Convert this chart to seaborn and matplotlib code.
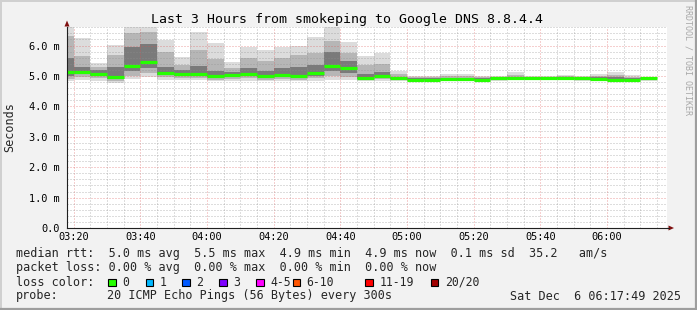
import matplotlib
matplotlib.use("Agg")
import matplotlib.pyplot as plt
import numpy as np
import pandas as pd
import seaborn as sns
from matplotlib.ticker import MultipleLocator, FixedLocator, FixedFormatter
from matplotlib.patches import Polygon, Rectangle
from matplotlib.lines import Line2D

# ---------------- data ----------------
bin_start = ["03:15", "03:20", "03:25", "03:30", "03:35", "03:40", "03:45", "03:50", "03:55",
             "04:00", "04:05", "04:10", "04:15", "04:20", "04:25", "04:30", "04:35", "04:40",
             "04:45", "04:50", "04:55", "05:00", "05:05", "05:10", "05:15", "05:20", "05:25",
             "05:30", "05:35", "05:40", "05:45", "05:50", "05:55", "06:00", "06:05", "06:10"]
# ping RTT levels per 5-min bin (ms)
rtt_max = [6.62, 6.25, 5.42, 6.03, 6.62, 6.62, 6.17, 5.63, 6.46, 6.10, 5.47, 5.95,
           5.87, 5.95, 5.98, 6.28, 6.62, 6.12, 5.64, 5.74, 5.15, 5.00, 5.00, 5.07,
           5.07, 4.99, 5.00, 5.12, 5.00, 5.00, 5.03, 5.00, 5.07, 5.12, 5.03, 4.98]
rtt_hi2 = [6.30, 5.65, 5.30, 5.70, 6.40, 6.45, 5.80, 5.35, 5.85, 5.55, 5.25, 5.60,
           5.50, 5.60, 5.70, 5.75, 6.15, 5.75, 5.35, 5.40, 5.05, 4.96, 4.96, 5.00,
           5.00, 4.96, 4.97, 5.03, 4.98, 4.98, 4.99, 4.97, 4.99, 5.02, 4.98, 4.96]
rtt_hi3 = [5.60, 5.28, 5.18, 5.30, 5.95, 6.05, 5.30, 5.18, 5.32, 5.16, 5.12, 5.25,
           5.15, 5.25, 5.28, 5.35, 5.80, 5.50, 5.08, 5.12, 4.98, 4.93, 4.93, 4.94,
           4.94, 4.94, 4.95, 4.98, 4.96, 4.96, 4.95, 4.94, 4.95, 4.95, 4.94, 4.94]
rtt_median = [5.14, 5.14, 5.08, 4.98, 5.34, 5.47, 5.11, 5.08, 5.08, 5.01, 5.04, 5.08,
              5.01, 5.04, 5.01, 5.10, 5.34, 5.26, 4.94, 5.00, 4.92, 4.88, 4.88, 4.89,
              4.89, 4.88, 4.92, 4.93, 4.93, 4.93, 4.94, 4.92, 4.90, 4.87, 4.87, 4.92]
rtt_lo3 = [5.00, 5.05, 5.00, 4.90, 5.15, 5.25, 5.02, 5.00, 5.00, 4.95, 4.97, 5.00,
           4.95, 4.97, 4.95, 5.00, 5.15, 5.10, 4.90, 4.95, 4.89, 4.86, 4.86, 4.86,
           4.86, 4.86, 4.89, 4.90, 4.90, 4.90, 4.90, 4.89, 4.88, 4.85, 4.85, 4.89]
rtt_lo2 = [4.90, 4.95, 4.92, 4.84, 5.00, 5.10, 4.95, 4.93, 4.93, 4.88, 4.90, 4.92,
           4.88, 4.90, 4.88, 4.92, 5.00, 4.98, 4.87, 4.90, 4.87, 4.85, 4.85, 4.84,
           4.84, 4.85, 4.87, 4.88, 4.88, 4.88, 4.88, 4.87, 4.86, 4.84, 4.84, 4.87]
rtt_min = [4.82, 4.86, 4.85, 4.76, 4.90, 4.95, 4.88, 4.86, 4.86, 4.82, 4.84, 4.85,
           4.82, 4.84, 4.82, 4.85, 4.88, 4.88, 4.84, 4.85, 4.85, 4.83, 4.83, 4.82,
           4.82, 4.84, 4.85, 4.86, 4.86, 4.86, 4.86, 4.85, 4.84, 4.82, 4.82, 4.85]

x_tick_labels = ["03:20", "03:40", "04:00", "04:20", "04:40", "05:00", "05:20", "05:40", "06:00"]
y_tick_labels = ["0.0", "1.0 m", "2.0 m", "3.0 m", "4.0 m", "5.0 m", "6.0 m"]
y_tick_values = [0, 1, 2, 3, 4, 5, 6]

title = "Last 3 Hours from smokeping to Google DNS 8.8.4.4"
legend_lines = [
    "median rtt:  5.0 ms avg  5.5 ms max  4.9 ms min  4.9 ms now  0.1 ms sd  35.2   am/s",
    "packet loss: 0.00 % avg  0.00 % max  0.00 % min  0.00 % now",
]
loss_labels = ["0", "1", "2", "3", "4-5", "6-10", "11-19", "20/20"]
loss_colors = ["#26ff00", "#00b8ff", "#0059ff", "#7e00ff", "#ff00ff", "#ff5500", "#ff0000", "#a10000"]
probe_text = "20 ICMP Echo Pings (56 Bytes) every 300s"
date_text = "Sat Dec  6 06:17:49 2025"

# ---------------- helpers ----------------
W, H = 697, 310
def fx(px): return px / W
def fy(py): return 1 - py / H

def to_min(s):
    h, m = s.split(":")
    return int(h) * 60 + int(m) - 180  # minutes since 03:00

starts = np.array([to_min(s) for s in bin_start], dtype=float)
ends = starts + 5
xt = [to_min(s) for s in x_tick_labels]

sns.set_theme(style="white")
plt.rcParams["font.family"] = ["DejaVu Sans Mono", "DejaVu Sans"]
MONO = "DejaVu Sans Mono"

fig = plt.figure(figsize=(W / 100, H / 100), dpi=100, facecolor="#f2f2f2")
ax = fig.add_axes([fx(67), fy(228), fx(667) - fx(67), fy(27) - fy(228)])
ax.set_facecolor("white")

# smoke layers
layers = [(rtt_min, rtt_max, "#dcdcdc"),
          (rtt_lo2, rtt_hi2, "#b6b6b6"),
          (rtt_lo3, rtt_hi3, "#7a7a7a")]
for lo, hi, col in layers:
    lo = np.array(lo); hi = np.array(hi)
    ax.bar(starts, hi - lo, bottom=lo, width=5, align="edge", color=col,
           linewidth=0, zorder=1)

# median (green, loss 0) via seaborn
df = pd.DataFrame({
    "t": np.concatenate([starts, ends]),
    "rtt": np.concatenate([rtt_median, rtt_median]),
    "bin": np.concatenate([np.arange(len(starts)), np.arange(len(starts))]),
})
sns.lineplot(data=df, x="t", y="rtt", units="bin", estimator=None, color="#26ff00",
             linewidth=2.3, ax=ax, legend=False, zorder=4, solid_capstyle="butt")

ax.set_xlim(18, 198)
ax.set_ylim(0, 6.61)

# grid
ax.xaxis.set_major_locator(FixedLocator(xt))
ax.xaxis.set_major_formatter(FixedFormatter(x_tick_labels))
ax.xaxis.set_minor_locator(MultipleLocator(5))
ax.yaxis.set_major_locator(FixedLocator(y_tick_values))
ax.yaxis.set_major_formatter(FixedFormatter(y_tick_labels))
ax.yaxis.set_minor_locator(MultipleLocator(0.2))
ax.set_axisbelow(False)
ax.grid(which="minor", color="#8f8f8f", alpha=0.6, linestyle=(0, (1, 2)), linewidth=0.72)
ax.grid(which="major", color="#de5050", alpha=0.55, linestyle=(0, (1, 2)), linewidth=0.72)

ax.tick_params(which="both", length=0)
ax.tick_params(axis="y", pad=5, labelsize=7.4, labelcolor="black")
ax.tick_params(axis="x", pad=3, labelsize=7.4, labelcolor="black")
for lab in ax.get_xticklabels() + ax.get_yticklabels():
    lab.set_fontfamily(MONO)
ax.set_xlabel("")
ax.set_ylabel("")

for s in ["top", "right"]:
    ax.spines[s].set_visible(False)
for s in ["left", "bottom"]:
    ax.spines[s].set_color("#202020")
    ax.spines[s].set_linewidth(0.8)
    ax.spines[s].set_zorder(5)

# axis extension + arrows
fig.add_artist(Line2D([fx(667), fx(669)], [fy(228), fy(228)], color="#202020", lw=0.8))
fig.add_artist(Polygon([[fx(64.5), fy(26.5)], [fx(69.5), fy(26.5)], [fx(67), fy(20.5)]],
                       closed=True, color="#7f1010", transform=fig.transFigure, lw=0))
fig.add_artist(Polygon([[fx(668.5), fy(225.5)], [fx(668.5), fy(230.5)], [fx(674), fy(228)]],
                       closed=True, color="#7f1010", transform=fig.transFigure, lw=0))

# texts
fig.text(fx(347), fy(19), title, ha="center", va="center", fontsize=9.5, family=MONO, color="black")
fig.text(fx(10), fy(127), "Seconds", ha="center", va="center", rotation=90, fontsize=8.5, family=MONO)
fig.text(fx(688), fy(5), "RRDTOOL / TOBI OETIKER", ha="center", va="top", rotation=270,
         fontsize=6.0, family=MONO, color="#a8a8a8")

fig.text(fx(16), fy(254), legend_lines[0], ha="left", va="center", fontsize=8.5, family=MONO)
fig.text(fx(16), fy(268), legend_lines[1], ha="left", va="center", fontsize=8.5, family=MONO)
fig.text(fx(16), fy(282), "loss color:", ha="left", va="center", fontsize=8.5, family=MONO)
sq_x = [108.3, 145.7, 182.3, 219, 256, 292.7, 365.3, 430.7]
for px, lab, col in zip(sq_x, loss_labels, loss_colors):
    fig.add_artist(Rectangle((fx(px), fy(286)), fx(7.5), 7.5 / H, transform=fig.transFigure,
                             facecolor=col, edgecolor="black", lw=0.8))
    fig.text(fx(px + 14), fy(282), lab, ha="left", va="center", fontsize=8.3, family=MONO)
fig.text(fx(16), fy(296), "probe:", ha="left", va="center", fontsize=8.5, family=MONO)
fig.text(fx(107), fy(296), probe_text, ha="left", va="center", fontsize=8.5, family=MONO)
fig.text(fx(681), fy(296), date_text, ha="right", va="center", fontsize=8.5, family=MONO)

# 3D-ish border (rrdtool shade)
fig.add_artist(Line2D([0, 1], [fy(0.5), fy(0.5)], color="#d0d0d0", lw=1.4))
fig.add_artist(Line2D([fx(0.5), fx(0.5)], [0, 1], color="#d0d0d0", lw=1.4))
fig.add_artist(Line2D([0, 1], [fy(309), fy(309)], color="#9e9e9e", lw=1.6))
fig.add_artist(Line2D([fx(696), fx(696)], [0, 1], color="#9e9e9e", lw=1.6))

fig.savefig("out.png", dpi=100, facecolor=fig.get_facecolor())
